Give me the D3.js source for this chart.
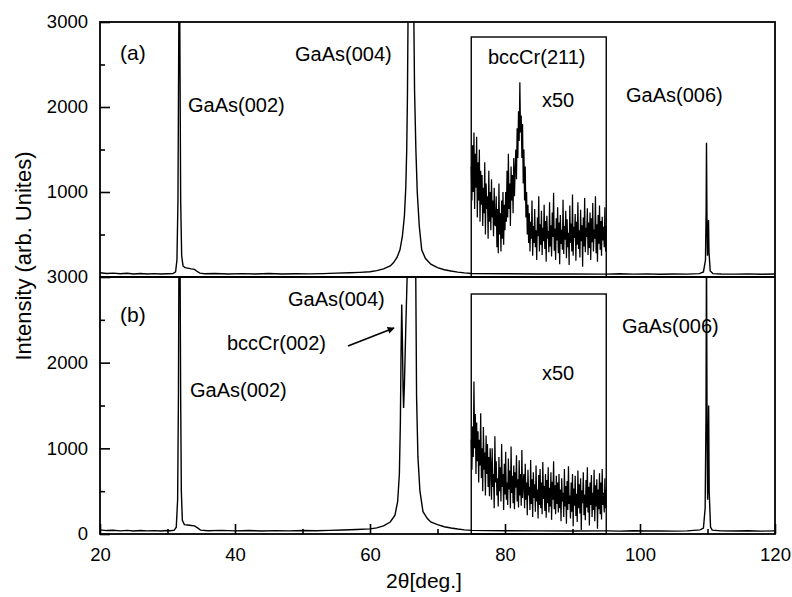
<!DOCTYPE html>
<html>
<head>
<meta charset="utf-8">
<script src="https://cdn.jsdelivr.net/npm/d3@7"></script>
<style>
  body { margin: 0; background: #fff; }
  text { font-family: "Liberation Sans", Arial, sans-serif; fill: #000; }
</style>
</head>
<body>
<svg id="chart" width="792" height="597"></svg>
<script>
// main scans [2theta, intensity]
const scanA = [
  [20,50],[21,42],[22,46],[23,38],[24,44],[25,36],[26,42],[27,35],[28,40],[29,36],[30,38],
  [30.8,40],[31.2,60],[31.4,200],[31.55,900],[31.65,2500],[31.7,3400],[31.8,3400],[31.85,2500],
  [31.95,900],[32.1,250],[32.3,130],[32.6,110],[33,105],[33.5,95],[34,90],[34.3,70],[34.8,45],
  [35.5,38],[37,42],[39,36],[41,40],[43,35],[45,41],[47,36],[49,39],[51,37],[53,40],[55,45],
  [57,50],[58.5,55],[60,62],[61,75],[62,95],[63,130],[63.5,170],[64,230],[64.44,320],[64.8,480],
  [65.1,720],[65.3,1050],[65.44,1490],[65.55,2150],[65.63,3000],[65.7,3400],[66.4,3400],
  [66.5,3000],[66.6,2200],[66.8,1490],[67.0,1000],[67.3,600],[67.66,320],[68.2,220],[69,150],
  [70,110],[71,85],[72,70],[73,58],[74,48],[75,42],[80,38],[85,36],[90,35],[95,34],[97,38],
  [99,34],[101,37],[103,33],[105,36],[107,34],[108.8,40],[109.4,60],[109.7,200],[109.8,800],
  [109.85,1580],[109.92,700],[110.0,250],[110.1,350],[110.15,670],[110.22,300],[110.4,70],
  [110.8,40],[112,36],[114,34],[116,37],[118,33],[120,35]
];
const scanB = [
  [20,48],[21,40],[22,44],[23,37],[24,42],[25,35],[26,41],[27,36],[28,39],[29,35],[30,40],
  [30.5,38],[31.0,45],[31.3,80],[31.5,400],[31.62,1600],[31.7,3400],[31.85,3400],[31.95,1600],
  [32.05,500],[32.2,160],[32.5,110],[33,105],[33.5,100],[34,95],[34.4,75],[34.9,45],[36,38],
  [38,42],[40,37],[42,40],[44,35],[46,39],[48,36],[50,40],[52,38],[54,42],[56,46],[58,52],
  [60,60],[61,72],[62,95],[63,140],[63.7,220],[64.1,380],[64.35,700],[64.5,1300],[64.6,2100],
  [64.7,2680],[64.8,2250],[64.9,1700],[64.98,1470],[65.1,1750],[65.3,2400],[65.5,3000],
  [65.6,3400],[66.7,3400],[66.78,3000],[66.9,1600],[67.1,900],[67.4,500],[67.85,260],
  [68.5,180],[69,140],[70,110],[71,85],[72,70],[73,58],[74,48],[75,42],[80,38],[85,36],
  [90,35],[95,36],[97,34],[99,38],[101,35],[103,37],[105,34],[107,36],[108.9,48],[109.4,70],
  [109.65,300],[109.78,1400],[109.85,3400],[109.93,1400],[110.02,400],[110.1,700],
  [110.17,1500],[110.25,500],[110.45,80],[110.7,45],[112,37],[114,35],[116,38],[118,34],[120,36]
];

// x50 insets, 75.0 .. 95.0 deg in 0.1 deg steps
const insetStart = 75, insetStep = 0.1, insetEnd = 95;
const insetA = [
  1300,900,1550,1000,1700,800,1450,1050,1650,700,1350,900,1500,650,1250,850,
  1200,600,1050,750,1350,500,1100,800,950,450,1250,650,1000,550,1150,700,900,480,1050,620,
  600,950,350,800,280,1100,500,750,300,900,450,1000,380,850,550,
  1000,650,1250,700,1450,800,1100,600,1300,900,1200,750,1400,950,1250,
  1500,1150,1750,1400,1950,1600,2290,
  1700,1900,1400,1800,1100,1500,900,1300,
  700,1000,500,850,400,
  750,300,650,450,900,250,600,400,800,350,
  550,200,700,480,950,300,620,380,780,260,
  580,420,850,330,660,180,720,450,540,290,
  880,360,610,240,760,470,990,310,570,200,
  690,430,820,280,640,150,730,390,560,320,
  910,270,600,440,780,220,680,350,520,140,
  840,400,630,300,970,250,590,460,740,190,
  650,380,880,330,550,230,790,420,610,120,
  700,360,930,290,580,470,810,260,640,340,
  760,200,690,410,870,300,560,450,950,280,
  620,180,730,390,840,320,660,250,710,430,
  590,350,820,300,600
];
const insetB = [
  1100,750,1255,900,1780,1000,1400,700,1300,850,
  1200,600,1100,800,1410,650,1000,500,1250,750,950,450,1150,700,1050,550,900,440,1000,
  800,400,1000,550,700,300,1140,600,850,450,
  650,320,900,500,780,380,1050,550,700,280,
  820,460,960,400,600,340,880,520,740,300,
  1020,480,680,360,800,290,720,540,920,380,
  640,310,860,450,700,330,980,420,600,
  700,300,820,400,600,220,750,450,550,280,
  865,350,640,200,720,420,580,260,800,380,
  520,180,690,340,760,300,600,230,840,410,
  560,270,700,190,630,360,780,250,540,320,
  720,165,610,400,850,290,570,230,680,350,
  600,250,700,300,520,150,650,380,480,200,
  760,320,560,120,620,280,790,350,450,180,
  600,260,700,90,530,330,680,210,470,140,
  740,300,580,240,650,47,510,360,720,220,
  460,160,630,310,780,250,550,100,600,340,
  690,200,480,280,750,150,570,320,640,60,
  520,290,710,230,600,170,760,340,480,250,
  650,300,520
];

const xMajor = [20, 40, 60, 80, 100, 120];
const xMinor = [30, 50, 70, 90, 110];
const yMajor = [0, 1000, 2000, 3000];
const yMinor = [500, 1500, 2500];

const svg = d3.select("#chart");
const plotL = 100, plotR = 775, plotT = 22, plotM = 277, plotB = 534;

const x = d3.scaleLinear().domain([20, 120]).range([plotL, plotR]);
const yA = d3.scaleLinear().domain([0, 3000]).range([plotM, plotT]);
const yB = d3.scaleLinear().domain([0, 3000]).range([plotB, plotM]);

const defs = svg.append("defs");
defs.append("clipPath").attr("id", "clipA").append("rect")
  .attr("x", plotL).attr("y", plotT).attr("width", plotR - plotL).attr("height", plotM - plotT);
defs.append("clipPath").attr("id", "clipB").append("rect")
  .attr("x", plotL).attr("y", plotM).attr("width", plotR - plotL).attr("height", plotB - plotM);
defs.append("marker").attr("id", "arrow")
  .attr("viewBox", "0 0 10 10").attr("refX", 9).attr("refY", 5)
  .attr("markerWidth", 10).attr("markerHeight", 7).attr("orient", "auto")
  .attr("markerUnits", "userSpaceOnUse")
  .append("path").attr("d", "M0,0 L10,5 L0,10 Z").attr("fill", "#000");

const insetPts = arr => arr.map((v, i) => [insetStart + i * insetStep, v]);

function panel(scan, inset, y, clip, boxTop) {
  const line = d3.line().x(d => x(d[0])).y(d => y(d[1]));
  const g = svg.append("g").attr("clip-path", "url(#" + clip + ")");
  g.append("path").datum(scan).attr("d", line)
    .attr("fill", "none").attr("stroke", "#000").attr("stroke-width", 1.4);
  g.append("path").datum(insetPts(inset)).attr("d", line)
    .attr("fill", "none").attr("stroke", "#000").attr("stroke-width", 1.25);
  svg.append("rect")
    .attr("x", x(insetStart)).attr("y", boxTop)
    .attr("width", x(insetEnd) - x(insetStart)).attr("height", y(0) - boxTop)
    .attr("fill", "none").attr("stroke", "#000").attr("stroke-width", 1.4);
}

panel(scanA, insetA, yA, "clipA", 37);
panel(scanB, insetB, yB, "clipB", 294);

// y axes, ticks inside
function yAxis(y, labels) {
  svg.append("g").attr("transform", "translate(" + plotL + ",0)")
    .call(d3.axisLeft(y).tickValues(labels).tickSize(-10).tickPadding(12).tickFormat(d3.format("d")))
    .call(g => g.select(".domain").remove());
  svg.append("g").attr("transform", "translate(" + plotL + ",0)")
    .call(d3.axisLeft(y).tickValues(yMinor).tickSize(-5).tickFormat(""))
    .call(g => g.select(".domain").remove());
}
yAxis(yA, [1000, 2000, 3000]);
yAxis(yB, yMajor);

svg.append("g").attr("transform", "translate(0," + plotB + ")")
  .call(d3.axisBottom(x).tickValues(xMajor).tickSize(-10).tickPadding(14))
  .call(g => g.select(".domain").remove());
svg.append("g").attr("transform", "translate(0," + plotB + ")")
  .call(d3.axisBottom(x).tickValues(xMinor).tickSize(-5).tickFormat(""))
  .call(g => g.select(".domain").remove());

svg.selectAll(".tick text").attr("font-size", 18.5)
  .attr("font-family", "Liberation Sans, Arial, sans-serif");
svg.selectAll(".tick line").attr("stroke-width", 1.6);

// frame
svg.append("rect").attr("x", plotL).attr("y", plotT)
  .attr("width", plotR - plotL).attr("height", plotB - plotT)
  .attr("fill", "none").attr("stroke", "#000").attr("stroke-width", 1.8);
svg.append("line").attr("x1", plotL).attr("x2", plotR).attr("y1", plotM).attr("y2", plotM)
  .attr("stroke", "#000").attr("stroke-width", 1.8);

// labels
const labels = [
  ["(a)", 120, 60, 21], ["GaAs(002)", 188, 112, 20], ["GaAs(004)", 295, 61, 20],
  ["bccCr(211)", 488, 64, 20], ["x50", 542, 107, 20], ["GaAs(006)", 626, 102, 20],
  ["(b)", 120, 322, 21], ["GaAs(004)", 288, 306, 20], ["bccCr(002)", 227, 350, 20],
  ["GaAs(002)", 190, 397, 20], ["x50", 542, 380, 20], ["GaAs(006)", 622, 333, 20]
];
svg.selectAll(".lbl").data(labels).enter().append("text")
  .attr("class", "lbl")
  .attr("x", d => d[1]).attr("y", d => d[2]).attr("font-size", d => d[3])
  .text(d => d[0]);

svg.append("line").attr("x1", 348).attr("y1", 346).attr("x2", 394).attr("y2", 328)
  .attr("stroke", "#000").attr("stroke-width", 1.6).attr("marker-end", "url(#arrow)");

svg.append("text").attr("transform", "translate(31,256) rotate(-90)")
  .attr("text-anchor", "middle").attr("font-size", 22).text("Intensity (arb. Unites)");
svg.append("text").attr("x", 424).attr("y", 588)
  .attr("text-anchor", "middle").attr("font-size", 21).text("2θ[deg.]");
</script>
</body>
</html>
